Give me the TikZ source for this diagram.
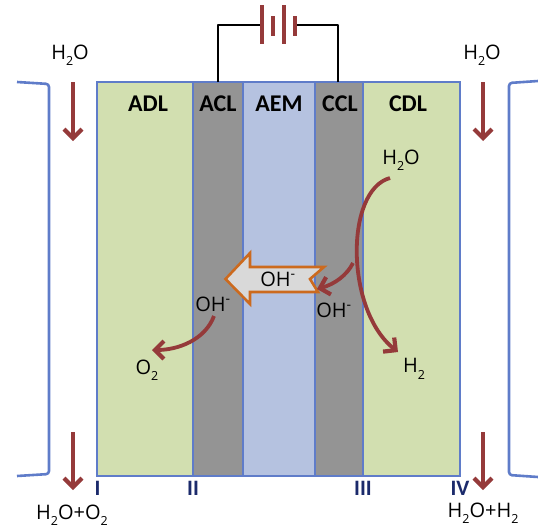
\documentclass[tikz,border=0pt]{standalone}
\usepackage{fontspec}
\setmainfont{Open Sans}
\newfontfamily\labfont{Carlito}
\usetikzlibrary{arrows.meta}
\newcommand{\lowtwo}{\raisebox{-0.32em}{\fontsize{12.5}{13}\selectfont 2}}
\definecolor{edgeblue}{HTML}{5F7CC9}
\definecolor{dlgreen}{HTML}{D2DFB0}
\definecolor{clgray}{HTML}{949494}
\definecolor{memblue}{HTML}{B5C2E0}
\definecolor{flowred}{HTML}{953A3A}
\definecolor{blockorange}{HTML}{CC6A1E}
\definecolor{numnavy}{HTML}{1B2A6B}
\tikzset{
  x=1pt,y=-1pt,
  layer/.style={draw=edgeblue,line width=2.6pt},
  bracket/.style={draw=edgeblue,line width=2.6pt,rounded corners=3pt},
  wire/.style={draw=black,line width=2.6pt},
  plate/.style={draw=flowred,line width=3.8pt},
  flow/.style={draw=flowred,line width=3.8pt,-{Straight Barb[length=9pt,width=18pt,line width=4.2pt]}},
  zone/.style={font=\labfont\bfseries\fontsize{24}{26}\selectfont,inner sep=0pt},
  chem/.style={font=\fontsize{20}{22}\selectfont,inner sep=0pt},
  num/.style={font=\labfont\bfseries\fontsize{22}{24}\selectfont,text=numnavy,inner sep=0pt},
}
\begin{document}
\begin{tikzpicture}
\useasboundingbox (0,0) rectangle (538,528);
% layers
\fill[dlgreen] (97,82) rectangle (193,476);
\fill[clgray] (193,82) rectangle (243,476);
\fill[memblue] (243,82) rectangle (315,476);
\fill[clgray] (315,82) rectangle (363,476);
\fill[dlgreen] (363,82) rectangle (460,476);
\foreach \xx in {193,243,315,363}{\draw[edgeblue,line width=2.6pt] (\xx,82) -- (\xx,476);}
\draw[layer] (97,82) rectangle (460,476);
% brackets
\draw[bracket] (17,82) -- (49,84) -- (49,474) -- (17,476);
\draw[bracket] (538,81) -- (509,83) -- (509,475) -- (538,477);
% battery
\coordinate (aclTop) at (218,82);
\coordinate (cclTop) at (338,82);
\coordinate (batL) at (262,25);
\coordinate (batR) at (295,25);
\draw[wire,line join=round] (aclTop) |- (batL);
\draw[wire,line join=round] (cclTop) |- (batR);
\draw[plate] (262,5) -- (262,44);
\draw[plate] (273,16) -- (273,36);
\draw[plate] (284,5) -- (284,44);
\draw[plate] (295,16) -- (295,36);
% zone labels
\node[zone] (adl) at (148,104) {ADL};
\node[zone] (acl) at (218,104) {ACL};
\node[zone] (aem) at (279,104) {AEM};
\node[zone] (ccl) at (340,104) {CCL};
\node[zone] (cdl) at (408,104) {CDL};
% block arrow
\draw[draw=blockorange,fill=black!15,line width=2.6pt,line join=miter]
  (225.5,279) -- (250,253) -- (250,267) -- (324,267) -- (310,279) -- (318,292) -- (250,292) -- (250,304) -- cycle;
% chem labels
\node[chem] (h2oTL) at (70,55) {H\lowtwo O};
\node[chem] (h2oTR) at (482,55) {H\lowtwo O};
\node[chem] (h2oIn) at (401,160) {H\lowtwo O};
\node[chem] (o2) at (147,370) {O\lowtwo};
\node[chem] (h2) at (414,369) {H\lowtwo};
\node[chem] (ohA) at (213,304) {OH\textsuperscript{-}};
\node[chem] (ohC) at (334,310) {OH\textsuperscript{-}};
\node[chem] (ohM) at (278,279) {OH\textsuperscript{-}};
\node[chem] (outA) at (72,515) {H\lowtwo O+O\lowtwo};
\node[chem] (outC) at (483,513) {H\lowtwo O+H\lowtwo};
% numerals
\node[num] (nI) at (97.5,488) {I};
\node[num] (nII) at (193,488) {II};
\node[num] (nIII) at (363,488) {III};
\node[num] (nIV) at (460,488) {IV};
% flow arrows
\coordinate (inA) at (73,82);
\coordinate (inAe) at (73,141);
\coordinate (inC) at (483,82);
\coordinate (inCe) at (483,141);
\coordinate (exA) at (73,432);
\coordinate (exAe) at (73,490);
\coordinate (exC) at (483,432);
\coordinate (exCe) at (483,490);
\draw[flow] (inA) -- (inAe);
\draw[flow] (inC) -- (inCe);
\draw[flow] (exA) -- (exAe);
\draw[flow] (exC) -- (exCe);
\coordinate (reactS) at (390,178);
\coordinate (reactE) at (398,352);
\coordinate (branchS) at (353,263);
\coordinate (branchE) at (317,289);
\coordinate (oxS) at (214,316);
\coordinate (oxE) at (152,350);
\draw[flow] (reactS) .. controls (345,190) and (345,310) .. (reactE);
\draw[flow] (branchS) .. controls (347,275) and (335,284) .. (branchE);
\draw[flow] (oxS) .. controls (205,340) and (178,350) .. (oxE);
\end{tikzpicture}
\end{document}
